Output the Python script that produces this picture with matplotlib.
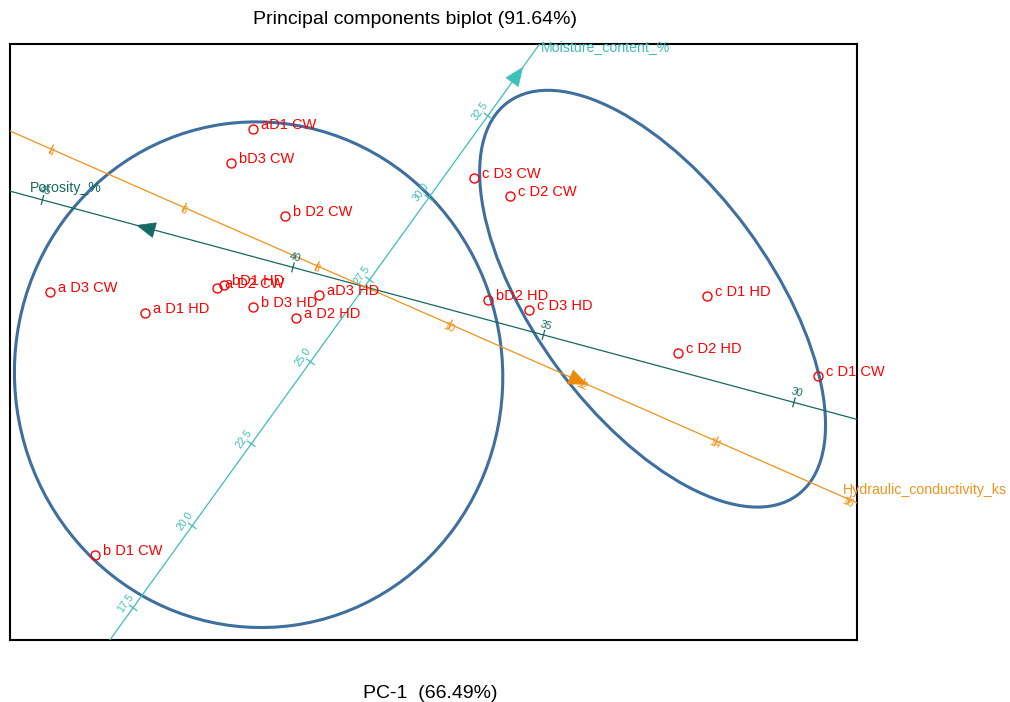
import numpy as np
import matplotlib.pyplot as plt
from matplotlib.patches import Ellipse, Polygon

plt.rcParams['font.family'] = ['Liberation Sans', 'DejaVu Sans']

# sample scores on the first two components
samples = ['aD1 CW', 'bD3 CW', 'b D2 CW', 'a D3 CW', 'a D1 HD', 'a D2 CW', 'bD1 HD', 'b D3 HD', 'aD3 HD',
           'a D2 HD', 'c D3 CW', 'c D2 CW', 'bD2 HD', 'c D3 HD', 'c D1 HD', 'c D2 HD', 'c D1 CW', 'b D1 CW']
pc1 = [-1.12, -1.34, -0.80, -3.15, -2.20, -1.48, -1.41, -1.12, -0.46,
       -0.69, 1.09, 1.45, 1.23, 1.64, 3.42, 3.13, 4.53, -2.70]
pc2 = [1.58, 1.24, 0.71, -0.05, -0.26, -0.01, 0.02, -0.20, -0.08,
       -0.31, 1.09, 0.91, -0.13, -0.23, -0.09, -0.66, -0.89, -2.68]

# calibrated variable axes: value at the origin and PC shift per unit of the variable
variables = ['Porosity_%', 'Moisture_content_%', 'Hydraulic_conductivity_ks']
centre = [38.57, 27.29, 8.71]
step_pc1 = [-0.501, 0.2365, 0.665]
step_pc2 = [0.135, 0.328, -0.292]
ticks = [[30, 35, 40, 45],
         [17.5, 20.0, 22.5, 25.0, 27.5, 30.0, 32.5],
         [4, 6, 8, 10, 12, 14, 16]]
tick_fmt = ['{:.0f}', '{:.1f}', '{:.0f}']
arrow_at = [42.9, 33.7, 11.9]

# group ellipses
ell_x = [-1.06, 2.88]
ell_y = [-0.88, -0.12]
ell_w = [4.88, 4.88]
ell_h = [5.06, 2.35]
ell_angle = [8, -53.6]

axis_colors = ['#17695f', '#3dbfb4', '#f0921c']
arrow_colors = ['#156a63', '#3ec2b8', '#ec8a0c']
label_side = [-1, 1, -1]
label_gap = [0.10, 0.09, 0.03]
name_offset = [(14, 2), (1, -2), (-10, 9)]

fig = plt.figure(figsize=(10.10, 7.02), dpi=100)
ax = fig.add_axes([10 / 1010, 62 / 702, 847 / 1010, 596 / 702])
xmin, xmax = -3.546, 4.924
ymin, ymax = -3.533, 2.427
ax.set_xlim(xmin, xmax)
ax.set_ylim(ymin, ymax)
ax.set_xticks([])
ax.set_yticks([])
for s in ax.spines.values():
    s.set_linewidth(1.5)
    s.set_color('black')

for i in range(len(ell_x)):
    ax.add_patch(Ellipse((ell_x[i], ell_y[i]), ell_w[i], ell_h[i], angle=ell_angle[i],
                         fill=False, ec='#3f6f9e', lw=2.2, zorder=2))

for k in range(len(variables)):
    g = np.array([step_pc1[k], step_pc2[k]])
    u = g / np.linalg.norm(g)
    n = np.array([-u[1], u[0]])
    col = axis_colors[k]
    # stretch of the axis that stays inside the plot box
    tx = sorted([xmin / g[0], xmax / g[0]])
    ty = sorted([ymin / g[1], ymax / g[1]])
    tlo, thi = max(tx[0], ty[0]), min(tx[1], ty[1])
    ends = np.array([tlo * g, thi * g])
    ax.plot(ends[:, 0], ends[:, 1], color=col, lw=0.9, zorder=3)

    rot = np.degrees(np.arctan2(u[1], u[0]))
    if rot > 90:
        rot -= 180
    if rot < -90:
        rot += 180
    for v in ticks[k]:
        p = (v - centre[k]) * g
        seg = np.array([p - n * 0.045, p + n * 0.045])
        ax.plot(seg[:, 0], seg[:, 1], color=col, lw=0.9, zorder=3)
        q = p + label_side[k] * n * label_gap[k]
        ax.text(q[0], q[1], tick_fmt[k].format(v), color=col, fontsize=7.5, rotation=rot,
                rotation_mode='anchor', ha='center', va='center', zorder=4)

    # arrow head pointing to higher values
    c = (arrow_at[k] - centre[k]) * g
    head = np.array([c + u * 0.11, c - u * 0.07 + n * 0.075, c - u * 0.07 - n * 0.075])
    ax.add_patch(Polygon(head, closed=True, fc=arrow_colors[k], ec=arrow_colors[k], lw=0.5, zorder=5))

    ax.annotate(variables[k], thi * g, xytext=name_offset[k], textcoords='offset points',
                color=col, fontsize=10.2, ha='left', va='center', annotation_clip=False)

ax.plot(pc1, pc2, 'o', mfc='none', mec='red', ms=6.5, mew=1, zorder=6)
for i in range(len(samples)):
    ax.annotate(samples[i], (pc1[i], pc2[i]), xytext=(6, 3), textcoords='offset points',
                color='red', fontsize=10.5, ha='left', va='center', zorder=7)

fig.text(415 / 1010, 1 - 20 / 702, 'Principal components biplot (91.64%)', ha='center', va='center', fontsize=14)
fig.text(430 / 1010, 1 - 693 / 702, 'PC-1  (66.49%)', ha='center', va='center', fontsize=14)

fig.savefig('out.png', dpi=100)
